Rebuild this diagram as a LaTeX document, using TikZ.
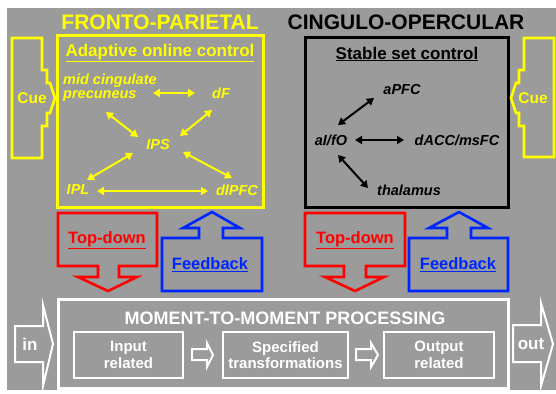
\documentclass[tikz,border=0pt]{standalone}
\usepackage{fontspec}
\setmainfont{Liberation Sans}
\usetikzlibrary{arrows.meta,calc}
\definecolor{bg}{HTML}{9B9B9B}
\definecolor{yel}{HTML}{FFFF00}
\definecolor{rd}{HTML}{FF0000}
\definecolor{bl}{HTML}{0026FF}
\begin{document}
\begin{tikzpicture}[x=1pt,y=-1pt,
  title/.style={font=\fontsize{21}{21}\selectfont\bfseries, inner sep=0},
  headtxt/.style={font=\fontsize{17}{17}\selectfont\bfseries, inner sep=0},
  region/.style={font=\fontsize{14.5}{14}\selectfont\bfseries\itshape, inner sep=0, align=left},
  tip/.style={Triangle[length=7pt,width=8pt]},
  yarr/.style={draw=yel, line width=2pt, {Triangle[length=7pt,width=8pt]}-{Triangle[length=7pt,width=8pt]}},
  karr/.style={draw=black, line width=2pt, {Triangle[length=7pt,width=8pt]}-{Triangle[length=7pt,width=8pt]}},
  outl/.style={line width=2.6pt, line join=miter},
  flowtxt/.style={font=\fontsize{16.5}{16.5}\selectfont\bfseries, inner sep=0},
  proctxt/.style={text=white, font=\fontsize{15}{16.5}\selectfont\bfseries, align=center, inner sep=0},
  wbox/.style={draw=white, line width=2.5pt}
]
\useasboundingbox (0,0) rectangle (556,393);
\fill[white] (0,0) rectangle (556,393);
\fill[bg] (7,8) rectangle (556,390);

% titles
\node[title, text=yel] (fpt) at (160,22) {FRONTO-PARIETAL};
\node[title, text=black] (cot) at (406,22) {CINGULO-OPERCULAR};

% left panel
\draw[draw=yel, line width=3pt] (57,36) rectangle (263,207);
\node[headtxt, text=yel] (aoc) at (160,53) {\underline{Adaptive online control}};
\node[region, text=yel, anchor=west] (mc) at (63,88) {mid cingulate\\precuneus};
\node[region, text=yel] (dF) at (221,93) {dF};
\node[region, text=yel] (IPS) at (158,145) {IPS};
\node[region, text=yel] (IPL) at (78,190) {IPL};
\node[region, text=yel] (dlPFC) at (237,190) {dlPFC};
\draw[yarr] ($(mc)+(43,5)$) -- ($(dF)+(-26,0)$);
\draw[yarr] ($(mc)+(-4,24)$) -- ($(IPS)+(-20,-8)$);
\draw[yarr] ($(dF)+(-9,17)$) -- ($(IPS)+(22,-9)$);
\draw[yarr] ($(IPS)+(-25,8)$) -- ($(IPL)+(9,-10)$);
\draw[yarr] ($(IPS)+(25,7)$) -- ($(dlPFC)+(-5,-12)$);
\draw[yarr] ($(IPL)+(19,1)$) -- ($(dlPFC)+(-29,1)$);

% right panel
\draw[draw=black, line width=3pt] (305,38) rectangle (508,207);
\node[headtxt, text=black] (ssc) at (407,54) {\underline{Stable set control}};
\node[region] (aPFC) at (402,90) {aPFC};
\node[region] (aIfO) at (331,140) {aI/fO};
\node[region] (dACC) at (457,140) {dACC/msFC};
\node[region] (thal) at (409,190) {thalamus};
\draw[karr] ($(aIfO)+(7,-15)$) -- ($(aPFC)+(-28,8)$);
\draw[karr] ($(aIfO)+(24,0)$) -- ($(dACC)+(-53,0)$);
\draw[karr] ($(aIfO)+(7,15)$) -- ($(thal)+(-41,-2)$);

% cue arrows
\draw[outl, draw=yel] (12,38) -- (42,38) -- (42,70) -- (47,70) -- (47,83) -- (50,83) -- (55,98) -- (50,113) -- (47,113) -- (47,126) -- (42,126) -- (42,158) -- (12,158) -- cycle;
\node[headtxt, text=yel, font=\fontsize{15.5}{15.5}\selectfont\bfseries] (cueL) at (32,98) {Cue};
\draw[outl, draw=yel] (554,38) -- (524,38) -- (524,70) -- (519,70) -- (519,83) -- (516,83) -- (511,98) -- (516,113) -- (519,113) -- (519,126) -- (524,126) -- (524,157) -- (554,157) -- cycle;
\node[headtxt, text=yel, font=\fontsize{15.5}{15.5}\selectfont\bfseries] (cueR) at (533,98) {Cue};

% top-down / feedback
\draw[outl, draw=rd] (58,213) -- (157,213) -- (157,266) -- (119,266) -- (119,277) -- (137,277) -- (108,291) -- (78,277) -- (98,277) -- (98,266) -- (58,266) -- cycle;
\node[flowtxt, text=rd] (tdL) at (107,240) {\underline{Top-down}};
\draw[outl, draw=bl] (162,291) -- (262,291) -- (262,238) -- (223,238) -- (223,228) -- (240,228) -- (212,212) -- (183,228) -- (199,228) -- (199,238) -- (162,238) -- cycle;
\node[flowtxt, text=bl] (fbL) at (210,265) {\underline{Feedback}};
\draw[outl, draw=rd] (305,213) -- (405,213) -- (405,266) -- (366,266) -- (366,277) -- (384,277) -- (355,291) -- (325,277) -- (344,277) -- (344,266) -- (305,266) -- cycle;
\node[flowtxt, text=rd] (tdR) at (355,240) {\underline{Top-down}};
\draw[outl, draw=bl] (409,291) -- (508,291) -- (508,238) -- (471,238) -- (471,228) -- (488,228) -- (459,212) -- (429,228) -- (447,228) -- (447,238) -- (409,238) -- cycle;
\node[flowtxt, text=bl] (fbR) at (458,265) {\underline{Feedback}};

% processing
\draw[draw=white, line width=3pt] (58,299) rectangle (508,388);
\node[proctxt, font=\fontsize{18}{18}\selectfont\bfseries] (mtm) at (285,318) {MOMENT-TO-MOMENT PROCESSING};
\node[wbox, minimum width=109pt, minimum height=46pt, inner sep=0] (inp) at (128.5,355) {};
\node[proctxt] at (inp) {Input\\related};
\node[wbox, minimum width=125pt, minimum height=46pt, inner sep=0] (spec) at (285.5,355) {};
\node[proctxt] at (spec) {Specified\\transformations};
\node[wbox, minimum width=110pt, minimum height=46pt, inner sep=0] (outp) at (439,355) {};
\node[proctxt] at (outp) {Output\\related};
\draw[draw=white, line width=2pt, line join=miter] (192,349) -- (207,349) -- (207,343) -- (213,355) -- (207,367) -- (207,360) -- (192,360) -- cycle;
\draw[draw=white, line width=2pt, line join=miter] (356,349) -- (371,349) -- (371,343) -- (378,355) -- (371,367) -- (371,360) -- (356,360) -- cycle;

% in / out
\draw[draw=white, line width=2pt, line join=miter] (15,326) -- (43,326) -- (43,305) -- (53,344) -- (43,386) -- (43,362) -- (15,362) -- cycle;
\node[proctxt, font=\fontsize{17}{17}\selectfont\bfseries] (intxt) at (30,344) {in};
\draw[draw=white, line width=2pt, line join=miter] (513,325) -- (541,325) -- (541,303) -- (553,344) -- (541,386) -- (541,362) -- (513,362) -- cycle;
\node[proctxt, font=\fontsize{17}{17}\selectfont\bfseries] (outtxt) at (531,344) {out};
\end{tikzpicture}
\end{document}
